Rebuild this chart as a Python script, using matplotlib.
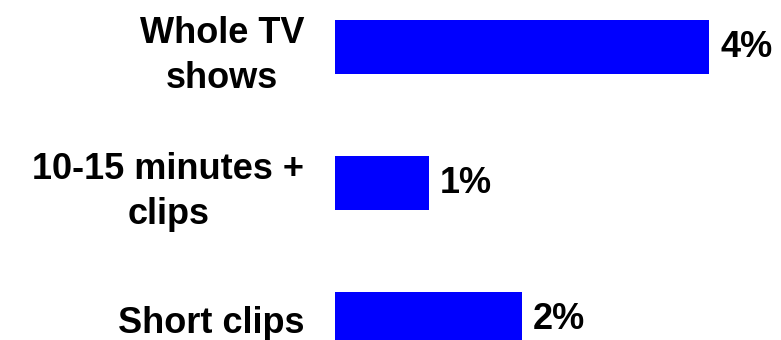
import matplotlib
matplotlib.use("Agg")
import matplotlib.pyplot as plt

# data
categories = ["Whole TV\nshows", "10-15 minutes +\nclips", "Short clips"]
values = [4, 1, 2]
value_labels = ["4%", "1%", "2%"]

plt.rcParams['font.family'] = ['Liberation Sans', 'DejaVu Sans']

fig = plt.figure(figsize=(7.81, 3.4), dpi=100)
ax = fig.add_axes([335 / 781, 0, 446 / 781, 1])

pos = list(range(len(categories)))
ax.barh(pos, values, height=0.397, color="#0000FF", edgecolor="none")

ax.set_xlim(0, 446 / 93.5)
ax.set_ylim(2.154, -0.346)

for p, v, lab in zip(pos, values, value_labels):
    ax.annotate(lab, (v, p), xytext=(8, 0), textcoords="offset points",
                ha="left", va="center", fontsize=26, fontweight="bold")

ax.set_yticks(pos)
ax.set_yticklabels(categories, fontsize=26, fontweight="bold")
for t in ax.get_yticklabels():
    t.set_multialignment("center")
    t.set_linespacing(1.35)
ax.tick_params(axis="y", length=0, pad=22)
ax.set_xticks([])
for s in ax.spines.values():
    s.set_visible(False)

fig.savefig("out.png", dpi=100)
